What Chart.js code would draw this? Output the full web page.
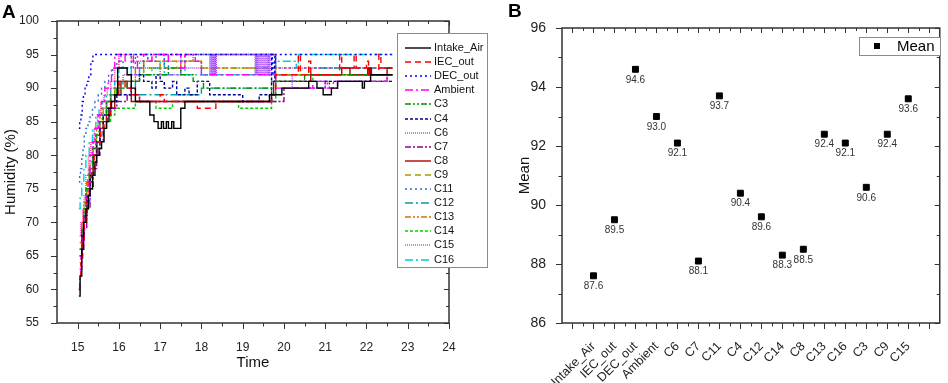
<!DOCTYPE html>
<html>
<head>
<meta charset="utf-8">
<script src="https://cdn.jsdelivr.net/npm/chart.js@4.4.1/dist/chart.umd.min.js"></script>
<style>
  body { margin: 0; background: #fff; }
  #wrap { position: relative; width: 948px; height: 383px; font-family: "Liberation Sans", Arial, sans-serif; }
  .box { position: absolute; top: 0; }
  .box canvas { display: block; }
  .tag { position: absolute; font-weight: bold; font-size: 19px; line-height: 20px; color: #000; }
</style>
</head>
<body>
<div id="wrap">
  <div class="box" style="left:0"><canvas id="chartA" width="490" height="383"></canvas></div>
  <div class="box" style="left:490px"><canvas id="chartB" width="458" height="383"></canvas></div>
  <div class="tag" style="left:2px;top:2px">A</div>
  <div class="tag" style="left:508px;top:1px">B</div>
</div>
<script>
// ---- panel A: humidity vs time ----
const seriesNames = ["Intake_Air", "IEC_out", "DEC_out", "Ambient", "C3", "C4", "C6", "C7",
  "C8", "C9", "C11", "C12", "C13", "C14", "C15", "C16"];
const timeTicks = [15, 16, 17, 18, 19, 20, 21, 22, 23, 24];
const humidityTicks = [55, 60, 65, 70, 75, 80, 85, 90, 95, 100];

const intakeTime = [15.03, 15.06, 15.1, 15.14, 15.2, 15.26, 15.3, 15.36, 15.42, 15.46, 15.52, 15.58, 15.64, 15.7, 15.76, 15.82, 15.9, 15.97, 16.2, 16.3, 16.4, 16.75, 16.85, 16.95, 17.03, 17.08, 17.15, 17.2, 17.28, 17.33, 17.5, 17.6, 19.65, 19.95, 20.25, 20.6, 20.8, 20.95, 21.15, 21.3, 21.5, 21.9, 21.95, 22.1, 22.63];
const intakeHum = [59, 62, 66, 70, 72, 74, 75, 77, 79, 80, 81, 82, 84, 85, 87, 88, 89, 93, 92, 90, 88, 86, 85, 84, 85, 84, 85, 84, 85, 84, 87, 88, 89, 90, 90, 91, 90, 89, 90, 91, 91, 90, 91, 92, 92];

const iecTime = [15.05, 15.08, 15.12, 15.16, 15.22, 15.28, 15.34, 15.4, 15.48, 15.56, 15.64, 15.72, 15.8, 15.9, 16.0, 16.15, 16.3, 16.5, 17.0, 17.1, 17.9, 18.35, 19.7, 19.8, 20.35, 20.4, 20.6, 20.65, 21.35, 21.4, 21.7, 21.75, 22.0, 22.05, 22.3, 22.35, 22.63];
const iecHum = [62, 64, 67, 70, 73, 76, 78, 80, 82, 84, 85, 86, 88, 89, 91, 90, 89, 88, 89, 88, 87, 88, 89, 92, 95, 92, 94, 92, 95, 93, 95, 93, 94, 92, 95, 93, 93];

const decTime = [15.03, 15.05, 15.08, 15.11, 15.14, 15.18, 15.22, 15.27, 15.32, 15.37, 19.72, 19.76, 19.8, 22.63];
const decHum = [84, 85, 86, 88, 89, 90, 91, 92, 94, 95, 92, 94, 95, 95];

const ambTime = [15.02, 15.05, 15.08, 15.12, 15.16, 15.2, 15.25, 15.3, 15.36, 15.42, 15.5, 15.58, 15.66, 15.74, 15.82, 15.9, 16.05, 16.15, 16.35, 16.45, 16.7, 16.8, 17.1, 17.2, 17.5, 17.6, 17.85, 18.0, 19.7, 19.8, 20.6, 20.7, 21.05, 21.2, 21.3, 22.4, 22.5, 22.63];
const ambHum = [60, 62, 65, 68, 71, 74, 77, 80, 82, 84, 86, 88, 90, 91, 93, 95, 94, 95, 93, 95, 94, 95, 94, 95, 93, 95, 94, 92, 92, 90, 90, 91, 90, 91, 91, 91, 92, 92];

const c3Time = [15.05, 15.1, 15.15, 15.2, 15.28, 15.36, 15.44, 15.52, 15.6, 15.7, 15.8, 15.95, 16.2, 16.5, 17.2, 17.5, 17.8, 18.05, 19.7, 19.8, 20.5, 22.63];
const c3Hum = [66, 69, 72, 75, 78, 81, 83, 85, 86, 88, 89, 90, 91, 92, 93, 92, 91, 90, 89, 91, 92, 92];

const c4Time = [15.05, 15.1, 15.15, 15.22, 15.3, 15.38, 15.46, 15.54, 15.62, 15.7, 15.8, 15.95, 16.3, 16.5, 16.6, 16.8, 16.9, 17.0, 17.1, 17.3, 17.4, 17.6, 17.7, 17.9, 18.2, 19.0, 19.4, 19.65, 19.7, 19.78, 22.63];
const c4Hum = [65, 68, 71, 74, 77, 80, 82, 84, 86, 87, 88, 89, 91, 92, 91, 90, 92, 91, 90, 91, 89, 90, 89, 91, 89, 88, 89, 88, 95, 91, 91];

const c6Time = [15.05, 15.1, 15.15, 15.22, 15.3, 15.38, 15.46, 15.54, 15.62, 15.7, 15.8, 15.9, 16.1, 16.5, 17.0, 17.5, 18.0,
  18.2, 18.22, 18.24, 18.26, 18.28, 18.3, 18.32, 18.34, 18.36,
  19.3, 19.32, 19.34, 19.36, 19.38, 19.4, 19.42, 19.44, 19.46, 19.48, 19.5, 19.52, 19.54, 19.56, 19.58, 19.6, 19.62, 19.64, 19.66,
  19.7, 20.2, 21.0, 21.3, 22.63];
const c6Hum = [64, 67, 70, 73, 76, 79, 82, 84, 86, 88, 90, 91, 92, 93, 92, 93, 92,
  95, 92, 95, 92, 95, 92, 95, 92, 95,
  92, 95, 92, 95, 92, 95, 92, 95, 92, 95, 92, 95, 92, 95, 92, 95, 92, 95, 92,
  92, 90, 91, 91, 91];

const c7Time = [15.05, 15.1, 15.15, 15.22, 15.3, 15.38, 15.46, 15.54, 15.62, 15.7, 15.8, 15.95, 16.2, 16.5, 19.7, 20.0, 20.6, 21.0, 21.1, 21.3, 22.4, 22.5, 22.63];
const c7Hum = [63, 66, 69, 72, 75, 78, 80, 82, 84, 86, 87, 88, 89, 88, 88, 90, 90, 91, 90, 91, 91, 92, 92];

const c8Time = [15.05, 15.1, 15.15, 15.22, 15.3, 15.38, 15.46, 15.54, 15.62, 15.7, 15.8, 15.9, 16.05, 16.2, 16.3, 19.7, 19.75, 20.55, 20.65, 21.4, 21.6, 22.0, 22.03, 22.06, 22.09, 22.12, 22.45, 22.5, 22.63];
const c8Hum = [65, 68, 71, 74, 77, 80, 82, 84, 85, 86, 87, 89, 91, 90, 88, 89, 91, 91, 92, 93, 92, 92, 93, 92, 93, 92, 92, 93, 93];

const c9Time = [15.05, 15.1, 15.15, 15.22, 15.3, 15.38, 15.46, 15.54, 15.62, 15.7, 15.8, 15.9, 16.0, 16.4, 16.6, 17.0, 17.4, 17.6, 18.0, 19.7, 19.8, 22.63];
const c9Hum = [66, 69, 72, 75, 78, 81, 83, 85, 87, 88, 89, 90, 91, 92, 93, 94, 93, 94, 93, 93, 92, 92];

const c11Time = [15.03, 15.05, 15.07, 15.1, 15.13, 15.16, 15.2, 15.25, 15.3, 15.36, 15.42, 15.5, 15.58, 15.66, 15.75, 15.85, 15.95, 16.1, 16.3, 16.4, 16.6, 16.7, 16.9, 17.1, 17.2, 17.5, 17.6, 19.8, 22.63];
const c11Hum = [76, 77, 78, 80, 81, 83, 84, 85, 86, 87, 88, 89, 90, 91, 92, 93, 94, 93, 95, 93, 95, 94, 95, 93, 95, 94, 95, 93, 93];

const c12Time = [15.05, 15.1, 15.15, 15.22, 15.3, 15.38, 15.46, 15.54, 15.62, 15.7, 15.8, 15.9, 16.1, 16.4, 17.0, 17.6, 18.0, 19.7, 19.8, 20.3, 20.6, 22.63];
const c12Hum = [66, 69, 72, 75, 78, 81, 83, 85, 86, 88, 89, 90, 91, 89, 89, 89, 90, 91, 92, 92, 93, 93];

const c13Time = [15.05, 15.1, 15.15, 15.22, 15.3, 15.38, 15.46, 15.54, 15.62, 15.7, 15.8, 15.9, 16.0, 16.4, 16.6, 17.0, 17.5, 18.0, 19.7, 19.8, 22.63];
const c13Hum = [67, 70, 73, 76, 79, 82, 84, 86, 87, 88, 89, 90, 91, 93, 94, 93, 94, 93, 93, 92, 92];

const c14Time = [15.05, 15.1, 15.15, 15.22, 15.3, 15.38, 15.46, 15.54, 15.62, 15.7, 15.8, 15.9, 16.4, 16.6, 16.9, 17.3, 17.6, 18.9, 19.7, 19.8, 20.2, 20.7, 21.0, 22.63];
const c14Hum = [65, 68, 71, 74, 77, 79, 81, 83, 84, 85, 86, 87, 88, 88, 87, 88, 88, 87, 88, 91, 91, 92, 92, 92];

const c15Time = [15.05, 15.08, 15.12, 15.16, 15.2, 15.26, 15.32, 15.4, 15.48, 15.56, 15.64, 15.72, 15.8, 15.9, 16.0, 16.3, 16.8, 17.2, 17.8, 19.7, 19.8, 22.63];
const c15Hum = [68, 70, 72, 74, 77, 80, 82, 84, 86, 88, 89, 90, 91, 93, 95, 94, 95, 94, 95, 95, 93, 93];

const c16Time = [15.03, 15.06, 15.1, 15.15, 15.2, 15.28, 15.36, 15.44, 15.52, 15.6, 15.7, 15.8, 15.9, 16.0, 16.3, 16.5, 16.6, 16.8, 17.0, 17.1, 17.5, 17.6, 19.8, 20.3, 20.35, 22.63];
const c16Hum = [72, 74, 76, 78, 80, 82, 84, 86, 87, 88, 89, 90, 91, 93, 92, 94, 92, 93, 94, 92, 93, 92, 94, 93, 95, 95];

// ---- panel B: mean humidity per location ----
const meanLabels = ["Intake_Air", "IEC_out", "DEC_out", "Ambient", "C6", "C7", "C11", "C4",
  "C12", "C14", "C8", "C13", "C16", "C3", "C9", "C15"];
const meanValues = [87.6, 89.5, 94.6, 93.0, 92.1, 88.1, 93.7, 90.4, 89.6, 88.3, 88.5, 92.4, 92.1, 90.6, 92.4, 93.6];
const meanTicks = [86, 88, 90, 92, 94, 96];

const FONT = "'Liberation Sans', Arial, sans-serif";
Chart.defaults.font.family = FONT;

const seriesTime = [intakeTime, iecTime, decTime, ambTime, c3Time, c4Time, c6Time, c7Time,
  c8Time, c9Time, c11Time, c12Time, c13Time, c14Time, c15Time, c16Time];
const seriesHum = [intakeHum, iecHum, decHum, ambHum, c3Hum, c4Hum, c6Hum, c7Hum,
  c8Hum, c9Hum, c11Hum, c12Hum, c13Hum, c14Hum, c15Hum, c16Hum];

// line colour + dash per series (Origin style)
const lineStyles = [
  { color: "#000000", dash: [] },
  { color: "#ff0000", dash: [6, 4] },
  { color: "#0000ff", dash: [2, 3] },
  { color: "#ff00ff", dash: [8, 3, 2, 3] },
  { color: "#009000", dash: [6, 2, 2, 2, 2, 2] },
  { color: "#000090", dash: [3, 2] },
  { color: "#a040ff", dash: [1, 1] },
  { color: "#900090", dash: [6, 2, 2, 2] },
  { color: "#b00000", dash: [] },
  { color: "#a0a000", dash: [6, 4] },
  { color: "#2f6fd0", dash: [2, 3] },
  { color: "#00a0a0", dash: [8, 3, 2, 3] },
  { color: "#d07000", dash: [6, 2, 2, 2, 2, 2] },
  { color: "#00d000", dash: [3, 2] },
  { color: "#ff3399", dash: [1, 1] },
  { color: "#00d0d0", dash: [8, 3, 2, 3] }
];

const midpoints = (arr) => arr.slice(1).map((v, i) => (v + arr[i]) / 2);

// axis box with outward ticks (bottom/left) and inward mirror ticks (top/right)
const framePlugin = {
  id: "frame",
  afterDraw(chart, args, opts) {
    const { ctx, chartArea: a } = chart;
    const sx = chart.scales.x, sy = chart.scales.y;
    ctx.save();
    ctx.strokeStyle = "#333";
    const seg = (x1, y1, x2, y2) => { ctx.beginPath(); ctx.moveTo(x1, y1); ctx.lineTo(x2, y2); ctx.stroke(); };
    ctx.lineWidth = 1;
    const drawX = (vals, outLen, inLen) => vals.forEach(v => {
      const p = Math.round(sx.getPixelForValue(v)) + 0.5;
      seg(p, a.bottom, p, a.bottom + outLen);
      seg(p, a.top, p, a.top + inLen);
    });
    const drawY = (vals, outLen, inLen) => vals.forEach(v => {
      const p = Math.round(sy.getPixelForValue(v)) + 0.5;
      seg(a.left, p, a.left - outLen, p);
      seg(a.right, p, a.right - inLen, p);
    });
    drawX(opts.xMajor, 6, 5);
    drawX(opts.xMinor, 3.5, 3);
    drawY(opts.yMajor, 6, 5);
    drawY(opts.yMinor, 3.5, 3);
    ctx.lineWidth = 1.5;
    ctx.strokeRect(a.left, a.top, a.right - a.left, a.bottom - a.top);
    ctx.restore();
  }
};

const legendA = {
  id: "legendA",
  afterDraw(chart) {
    const ctx = chart.ctx;
    ctx.save();
    ctx.fillStyle = "#fff";
    ctx.fillRect(397, 33, 91, 235);
    ctx.strokeStyle = "#8c8c8c";
    ctx.lineWidth = 1;
    ctx.strokeRect(397.5, 33.5, 90, 234);
    ctx.font = "11px " + FONT;
    ctx.textBaseline = "middle";
    chart.data.datasets.forEach((ds, i) => {
      const yy = Math.round(48 + i * 14.1);
      ctx.strokeStyle = ds.borderColor;
      ctx.setLineDash(ds.borderDash);
      ctx.lineWidth = 1.4;
      ctx.beginPath(); ctx.moveTo(405, yy); ctx.lineTo(431, yy); ctx.stroke();
      ctx.setLineDash([]);
      ctx.fillStyle = "#111";
      ctx.fillText(ds.label, 434, yy);
    });
    ctx.restore();
  }
};

const datasetsA = seriesNames.map((name, i) => ({
  label: name,
  data: seriesTime[i].map((t, k) => ({ x: t, y: seriesHum[i][k] })),
  borderColor: lineStyles[i].color,
  borderDash: lineStyles[i].dash,
  borderWidth: 1.4,
  pointRadius: 0,
  stepped: true,
  fill: false
}));

new Chart(document.getElementById("chartA"), {
  type: "line",
  data: { datasets: datasetsA },
  options: {
    responsive: false,
    animation: false,
    events: [],
    layout: { padding: { left: 0, top: 21, right: 41, bottom: 0 } },
    plugins: {
      legend: { display: false },
      tooltip: { enabled: false },
      frame: {
        xMajor: timeTicks, xMinor: midpoints(timeTicks),
        yMajor: humidityTicks, yMinor: midpoints(humidityTicks)
      }
    },
    scales: {
      x: {
        type: "linear", min: 14.5, max: 24,
        afterBuildTicks: (s) => { s.ticks = timeTicks.map(v => ({ value: v })); },
        afterFit: (s) => { s.height = 60; },
        grid: { display: false }, border: { display: false },
        ticks: { padding: 9, color: "#222", font: { size: 12 }, maxRotation: 0, autoSkip: false },
        title: { display: true, text: "Time", color: "#111", font: { size: 15 }, padding: { top: 0, bottom: 11 } }
      },
      y: {
        min: 55, max: 100,
        afterBuildTicks: (s) => { s.ticks = humidityTicks.map(v => ({ value: v })); },
        afterFit: (s) => { s.width = 57; },
        grid: { display: false }, border: { display: false },
        ticks: { padding: 10, color: "#222", font: { size: 12 } },
        title: { display: true, text: "Humidity (%)", color: "#111", font: { size: 15 }, padding: { top: 2, bottom: 0 } }
      }
    }
  },
  plugins: [framePlugin, legendA]
});

// ---- panel B ----
const valueLabels = {
  id: "valueLabels",
  afterDatasetsDraw(chart) {
    const ctx = chart.ctx;
    ctx.save();
    ctx.font = "10px " + FONT;
    ctx.fillStyle = "#333";
    ctx.textAlign = "center";
    ctx.textBaseline = "middle";
    chart.getDatasetMeta(0).data.forEach((pt, i) => {
      ctx.fillText(meanValues[i].toFixed(1), pt.x, pt.y + 10.5);
    });
    ctx.restore();
  }
};

const legendB = {
  id: "legendB",
  afterDraw(chart) {
    const ctx = chart.ctx;
    ctx.save();
    ctx.fillStyle = "#fff";
    ctx.fillRect(369, 37, 81, 18);
    ctx.strokeStyle = "#8c8c8c";
    ctx.lineWidth = 1;
    ctx.strokeRect(369.5, 37.5, 81, 18);
    ctx.fillStyle = "#000";
    ctx.fillRect(384, 43, 6, 6);
    ctx.font = "15px " + FONT;
    ctx.textBaseline = "middle";
    ctx.fillText("Mean", 407, 46.5);
    ctx.restore();
  }
};

const catPositions = Array.from({ length: meanLabels.length + 2 }, (_, i) => i);

new Chart(document.getElementById("chartB"), {
  type: "scatter",
  data: {
    datasets: [{
      label: "Mean",
      data: meanValues.map((v, i) => ({ x: i + 1, y: v })),
      pointStyle: "rect",
      pointRadius: 4.2,
      backgroundColor: "#000",
      borderColor: "#000",
      borderWidth: 1
    }]
  },
  options: {
    responsive: false,
    animation: false,
    events: [],
    layout: { padding: { left: 0, top: 28, right: 2, bottom: 0 } },
    plugins: {
      legend: { display: false },
      tooltip: { enabled: false },
      frame: {
        xMajor: catPositions, xMinor: midpoints(catPositions),
        yMajor: meanTicks, yMinor: midpoints(meanTicks)
      }
    },
    scales: {
      x: {
        type: "linear", min: -0.5, max: 17.5,
        afterBuildTicks: (s) => { s.ticks = catPositions.map(v => ({ value: v })); },
        afterFit: (s) => { s.height = 60; },
        grid: { display: false }, border: { display: false },
        ticks: {
          padding: 8, color: "#222", font: { size: 12.5 },
          minRotation: 45, maxRotation: 45, autoSkip: false,
          callback: (v) => meanLabels[v - 1] || ""
        }
      },
      y: {
        min: 86, max: 96,
        afterBuildTicks: (s) => { s.ticks = meanTicks.map(v => ({ value: v })); },
        afterFit: (s) => { s.width = 72; },
        grid: { display: false }, border: { display: false },
        ticks: { padding: 8, color: "#222", font: { size: 14 } },
        title: { display: true, text: "Mean", color: "#111", font: { size: 15 }, padding: { top: 26, bottom: 0 } }
      }
    }
  },
  plugins: [framePlugin, valueLabels, legendB]
});
</script>
</body>
</html>
